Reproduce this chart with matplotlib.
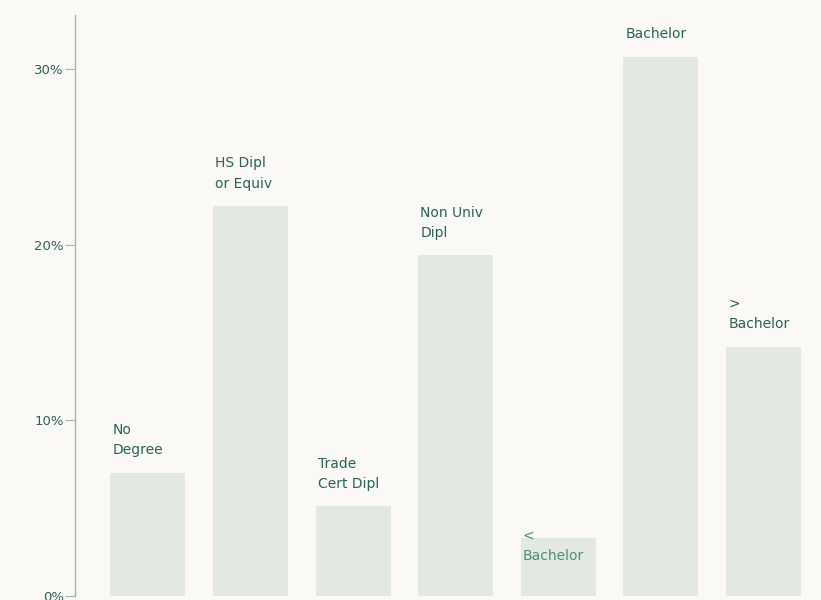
import numpy as np
import matplotlib
matplotlib.use("Agg")
from matplotlib import pyplot as plt

categories = ["No\nDegree", "HS Dipl\nor Equiv", "Trade\nCert Dipl", "Non Univ\nDipl",
              "<\nBachelor", "Bachelor", ">\nBachelor"]
shares = [7.0, 22.2, 5.1, 19.4, 3.3, 30.7, 14.2]
y_ticks = [0, 10, 20, 30]
y_tick_labels = ["0%", "10%", "20%", "30%"]

bg = "#fbf9f5"
bar_color = "#e3e8e3"
text_color = "#2a6550"
axis_color = "#9fb8ac"

fig = plt.figure(figsize=(8.21, 6.0), dpi=100, facecolor=bg)
ax = fig.add_axes([75 / 821, 4 / 600, 1 - 75 / 821, 581 / 600])
ax.set_facecolor(bg)

x = np.arange(len(categories))
width = 0.73
ax.bar(x, shares, width=width, color=bar_color, edgecolor="none")

for i, (lab, val) in enumerate(zip(categories, shares)):
    if val < 4:
        # small bar: label sits inside the bar top
        ax.text(i - width / 2 + 0.02, val - 1.4, lab, ha="left", va="bottom",
                fontsize=10, color="#4f8f76", linespacing=1.55)
    else:
        ax.text(i - width / 2 + 0.02, val + 0.9, lab, ha="left", va="bottom",
                fontsize=10, color=text_color, linespacing=1.55)

ax.set_xlim(-0.711, 6.56)
ax.set_ylim(0, 33.1)
ax.set_yticks(y_ticks)
ax.set_yticklabels(y_tick_labels, fontsize=9.5, color=text_color)
ax.tick_params(axis="y", length=7, width=0.8, color=axis_color, pad=1)
ax.set_xticks([])

for s in ["top", "right", "bottom"]:
    ax.spines[s].set_visible(False)
ax.spines["left"].set_color(axis_color)
ax.spines["left"].set_linewidth(1.0)

fig.savefig("out.png", dpi=100, facecolor=bg)
